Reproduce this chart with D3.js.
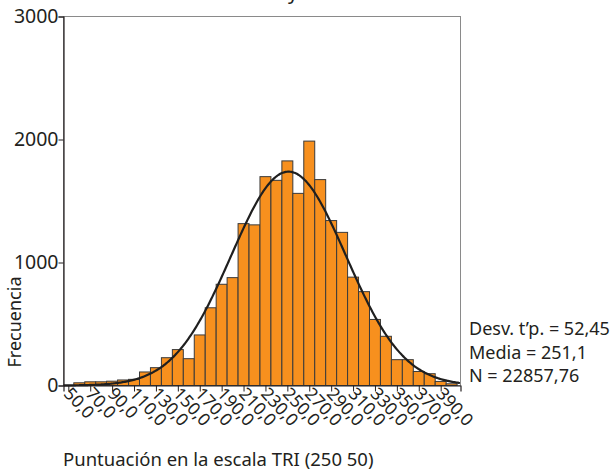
<!DOCTYPE html>
<html><head><meta charset="utf-8">
<script src="https://cdn.jsdelivr.net/npm/d3@7"></script>
<style>
html,body{margin:0;padding:0;background:#fff;}
text{font-family:"Noto Sans",sans-serif;fill:#231f20;}
</style></head>
<body><svg id="c" width="615" height="470"></svg>
<script>
// bin centres (bin width 10)
const binCenters = [50,60,70,80,90,100,110,120,130,140,150,160,170,180,190,200,210,220,230,240,250,260,270,280,290,300,310,320,330,340,350,360,370,380,390,400];
const frequencies = [0,22,30,30,35,45,50,110,145,226,292,218,411,632,823,877,1316,1306,1698,1668,1826,1562,1987,1674,1341,1245,881,763,537,400,210,210,114,96,33,14];
const xTickValues = [50,70,90,110,130,150,170,190,210,230,250,270,290,310,330,350,370,390];
const yTickValues = [0,1000,2000,3000];
const binWidth = 10;
const stdDev = 52.45, mean = 251.1, nTotal = 22857.76;
const statLines = ["Desv. t\u2019p. = 52,45","Media = 251,1","N = 22857,76"];
const xTitle = "Puntuación en la escala TRI (250 50)";
const yTitle = "Frecuencia";

const svg = d3.select("#c");
const x = d3.scaleLinear().domain([45.6,408.1]).range([63.5,460.5]);
const y = d3.scaleLinear().domain([0,3000]).range([385.5,16.5]);

// title fragment (cut off at top, as in the reference)
svg.append("text").attr("x",293).attr("y",-1).attr("text-anchor","middle")
  .attr("font-size",20).text("y");

// frame
svg.append("rect").attr("x",x.range()[0]).attr("y",y.range()[1])
  .attr("width",x.range()[1]-x.range()[0]).attr("height",y.range()[0]-y.range()[1])
  .attr("fill","none").attr("stroke","#8a8a8a").attr("stroke-width",1);

// bars
svg.append("g").selectAll("rect").data(binCenters.map((c,i)=>({c,v:frequencies[i]})).filter(d=>d.v>0))
 .join("rect")
  .attr("x",d=>x(d.c-binWidth/2)).attr("width",d=>x(d.c+binWidth/2)-x(d.c-binWidth/2))
  .attr("y",d=>y(d.v)).attr("height",d=>y(0)-y(d.v))
  .attr("fill","#f7901e").attr("stroke","#3a3a3a").attr("stroke-width",1);

// normal curve from displayed statistics
const curvePts = d3.range(x.domain()[0], x.domain()[1]+0.01, 1).map(v=>[v,
  nTotal*binWidth/(stdDev*Math.sqrt(2*Math.PI))*Math.exp(-0.5*Math.pow((v-mean)/stdDev,2))]);
svg.append("path").datum(curvePts)
  .attr("d",d3.line().x(d=>x(d[0])).y(d=>y(d[1])).curve(d3.curveBasis))
  .attr("fill","none").attr("stroke","#1f1f1f").attr("stroke-width",2.2);

// y axis
const yAxis = svg.append("g").attr("transform",`translate(${x.range()[0]},0)`)
  .call(d3.axisLeft(y).tickValues(yTickValues).tickSize(5).tickFormat(d3.format("d")));
yAxis.select(".domain").attr("stroke","#231f20").attr("stroke-width",1.2);
yAxis.selectAll(".tick line").attr("stroke","#231f20");
yAxis.selectAll("text").attr("font-size",19.5).attr("font-family","Noto Sans").attr("fill","#231f20").attr("x",-5);

// x axis
const xAxis = svg.append("g").attr("transform",`translate(0,${y.range()[0]})`)
  .call(d3.axisBottom(x).tickValues(xTickValues).tickSize(6).tickFormat(d=>d3.format(".1f")(d).replace(".",",")));
xAxis.select(".domain").attr("stroke","#231f20").attr("stroke-width",1.2);
xAxis.selectAll(".tick line").attr("stroke","#231f20");
xAxis.selectAll("text").attr("font-size",17.5).attr("font-family","Noto Sans").attr("fill","#231f20")
  .attr("text-anchor","start").attr("dy","0").attr("y",0)
  .attr("transform","translate(-6,9) rotate(47)");

// axis titles
svg.append("text").attr("transform","translate(21,322) rotate(-90)").attr("text-anchor","middle")
  .attr("font-size",18).text(yTitle);
svg.append("text").attr("x",63).attr("y",466).attr("font-size",18.5).text(xTitle);

// stats
svg.append("g").selectAll("text").data(statLines).join("text")
  .attr("x",469).attr("y",(d,i)=>335+i*23.5).attr("font-size",18).text(d=>d);
</script></body></html>
